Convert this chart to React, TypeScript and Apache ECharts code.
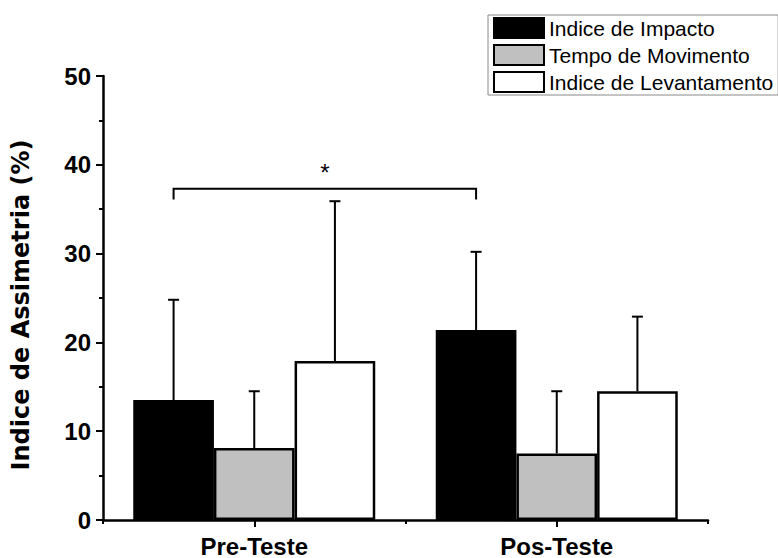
import React, { useEffect, useRef } from "react";
import * as echarts from "echarts";

const categories = ["Pre-Teste", "Pos-Teste"];
const seriesNames = ["Indice de Impacto", "Tempo de Movimento", "Indice de Levantamento"];
const impacto = [13.5, 21.4];
const impactoSD = [11.3, 8.8];
const movimento = [8.1, 7.5];
const movimentoSD = [6.4, 7.0];
const levantamento = [17.9, 14.5];
const levantamentoSD = [18.0, 8.4];
const bracket = [[0, 1, 37.3, 36.1]];
const yTicks = { min: 0, max: 50, interval: 10 };

const FONT = "Liberation Sans, Arial, sans-serif";

export default function App() {
  const ref = useRef<HTMLDivElement>(null);
  useEffect(() => {
    if (!ref.current) return;
    const chart = echarts.init(ref.current, undefined, { renderer: "svg" });
    const means = [impacto, movimento, levantamento];
    const sds = [impactoSD, movimentoSD, levantamentoSD];
    const errData: number[][] = [];
    for (let s = 0; s < 3; s++) {
      for (let c = 0; c < categories.length; c++) {
        errData.push([c, s, means[s][c], sds[s][c]]);
      }
    }
    const colors = ["#000000", "#c0c0c0", "#ffffff"];
    chart.setOption({
      animation: false,
      backgroundColor: "#ffffff",
      textStyle: { fontFamily: FONT },
      grid: { left: 103, right: 70, top: 76, bottom: 36 },
      legend: {
        data: seriesNames,
        left: 488,
        top: 15,
        orient: "vertical",
        padding: [2, 5, 2, 5],
        itemWidth: 50,
        itemHeight: 20,
        itemGap: 5,
        itemTextGap: 5,
        borderColor: "#888888",
        borderWidth: 1,
        borderRadius: 0,
        backgroundColor: "#ffffff",
        selectedMode: false,
        icon: "rect",
        textStyle: { fontSize: 21, color: "#000", fontFamily: FONT, lineHeight: 22 },
      },
      xAxis: [
        {
          type: "category",
          data: categories,
          axisLine: { lineStyle: { color: "#000", width: 2.5 } },
          axisTick: { show: true, alignWithLabel: false, length: 4, lineStyle: { color: "#000", width: 2 } },
          axisLabel: { fontSize: 24, fontWeight: "bold", color: "#000", margin: 14, fontFamily: FONT },
          splitLine: { show: false },
        },
        {
          type: "category",
          data: categories,
          position: "bottom",
          axisLine: { show: false },
          axisTick: { show: true, alignWithLabel: true, length: 7, lineStyle: { color: "#000", width: 2 } },
          axisLabel: { show: false },
          splitLine: { show: false },
        },
      ],
      yAxis: {
        type: "value",
        min: yTicks.min,
        max: yTicks.max,
        interval: yTicks.interval,
        name: "Indice de Assimetria (%)",
        nameLocation: "middle",
        nameGap: 70,
        nameTextStyle: {
          fontSize: 24,
          fontWeight: "bold",
          color: "#000",
          fontFamily: "DejaVu Sans, sans-serif",
          padding: [0, 14, 0, 0],
        },
        axisLine: { show: true, lineStyle: { color: "#000", width: 2.5 } },
        axisTick: { show: true, length: 7, lineStyle: { color: "#000", width: 2 } },
        minorTick: { show: true, splitNumber: 2, length: 4, lineStyle: { color: "#000", width: 2 } },
        axisLabel: { fontSize: 24, fontWeight: "bold", color: "#000", margin: 12, fontFamily: FONT },
        splitLine: { show: false },
      },
      series: [
        ...seriesNames.map((name, i) => ({
          name,
          type: "bar",
          data: means[i],
          barGap: "0%",
          barCategoryGap: "20%",
          itemStyle: { color: colors[i], borderColor: "#000", borderWidth: 2.5 },
          z: 2,
        })),
        {
          type: "custom",
          data: errData,
          z: 3,
          clip: false,
          encode: { x: 0, y: 2 },
          renderItem: (params: any, api: any) => {
            const c = api.value(0);
            const s = api.value(1);
            const m = api.value(2);
            const sd = api.value(3);
            const catW = api.size([1, 0])[0];
            const bw = (catW * 0.8) / 3;
            const p0 = api.coord([c, m]);
            const p1 = api.coord([c, m + sd]);
            const x = p0[0] + (s - 1) * bw;
            const style = { stroke: "#000", lineWidth: 2 };
            return {
              type: "group",
              children: [
                { type: "line", shape: { x1: x, y1: p0[1], x2: x, y2: p1[1] }, style },
                { type: "line", shape: { x1: x - 5.5, y1: p1[1], x2: x + 5.5, y2: p1[1] }, style },
              ],
            };
          },
        },
        {
          type: "custom",
          data: bracket,
          z: 3,
          clip: false,
          encode: { x: 0, y: 2 },
          renderItem: (params: any, api: any) => {
            const c0 = api.value(0);
            const c1 = api.value(1);
            const top = api.value(2);
            const bot = api.value(3);
            const catW = api.size([1, 0])[0];
            const bw = (catW * 0.8) / 3;
            const a = api.coord([c0, top]);
            const b = api.coord([c1, top]);
            const yb = api.coord([c0, bot])[1];
            const x0 = a[0] - bw;
            const x1 = b[0] - bw;
            return {
              type: "group",
              children: [
                {
                  type: "polyline",
                  shape: { points: [[x0, yb], [x0, a[1]], [x1, a[1]], [x1, yb]] },
                  style: { stroke: "#000", lineWidth: 2, fill: "none" },
                },
                {
                  type: "text",
                  style: {
                    text: "*",
                    x: (x0 + x1) / 2,
                    y: a[1] - 4,
                    fontSize: 24,
                    fontFamily: FONT,
                    fill: "#000",
                    align: "center",
                    verticalAlign: "bottom",
                  },
                },
              ],
            };
          },
        },
      ],
    });
    return () => chart.dispose();
  }, []);
  return <div ref={ref} style={{ width: 778, height: 558, position: "absolute", left: 0, top: 0 }} />;
}
